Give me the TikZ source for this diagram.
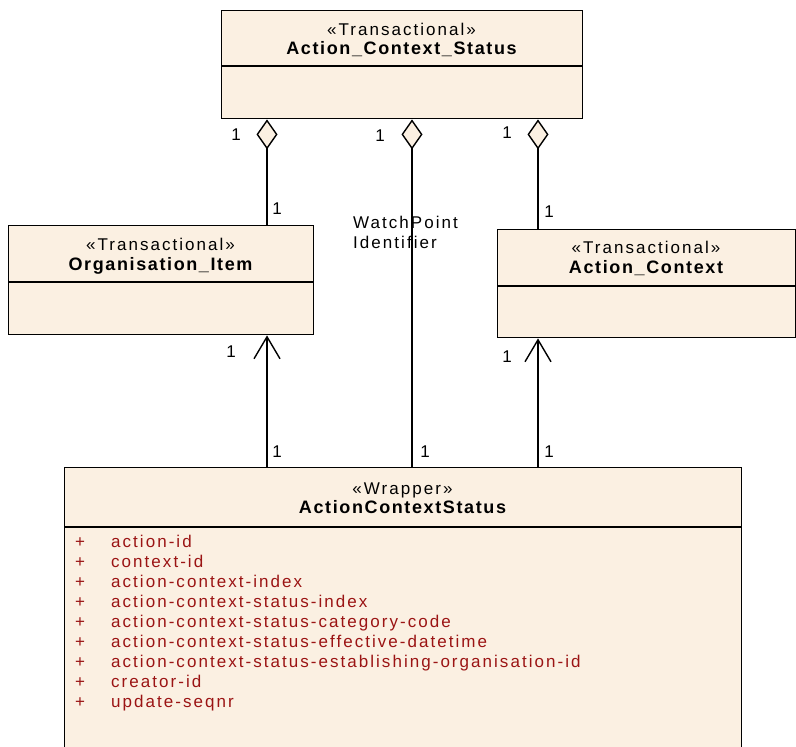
\documentclass[tikz,border=0pt]{standalone}
\usepackage{fontspec}
\setmainfont{Liberation Sans}
\newfontfamily\spfont{Liberation Sans}[LetterSpace=12]
\newfontfamily\bspfont{Liberation Sans}[LetterSpace=9]
\usetikzlibrary{arrows.meta}
\definecolor{boxfill}{RGB}{251,240,226}
\definecolor{attrred}{RGB}{155,20,20}
\begin{document}
\begin{tikzpicture}[x=1pt,y=-1pt,
  umlbox/.style={draw=black, fill=boxfill, line width=1.4pt, rectangle, inner sep=0pt, anchor=north west},
  stereo/.style={font=\spfont\fontsize{17}{19}\selectfont, inner sep=0pt, text height=12.5pt, text depth=3.5pt},
  cname/.style={font=\bspfont\bfseries\fontsize{18}{20}\selectfont, inner sep=0pt, text height=13pt, text depth=4pt},
  mult/.style={font=\spfont\fontsize{17}{19}\selectfont, inner sep=0pt},
  attrtxt/.style={font=\spfont\fontsize{17}{19}\selectfont, text=attrred, inner sep=0pt, anchor=base west},
  conn/.style={line width=1.4pt},
  agg/.style={conn, -{Diamond[length=30pt,width=21pt,fill=boxfill,line width=1.4pt]}},
  nav/.style={conn, -{Straight Barb[length=22pt,width=26pt,line width=1.4pt]}}
]
\useasboundingbox (0,0) rectangle (796,747);
\clip (0,0) rectangle (796,747);
\fill[white] (0,0) rectangle (796,747);

% helper columns
\coordinate (cL) at (267,0);
\coordinate (cM) at (412,0);
\coordinate (cR) at (538,0);

% boxes
\node[umlbox, minimum width=361pt, minimum height=108pt] (acs) at (221,10) {};
\draw[conn] (acs.west |- 0,66) -- (acs.east |- 0,66);
\node[stereo] (acsS) at (401.5,31) {«Transactional»};
\node[cname] (acsN) at (401.5,50) {Action\_Context\_Status};

\node[umlbox, minimum width=305pt, minimum height=109pt] (oi) at (8,225) {};
\draw[conn] (oi.west |- 0,282) -- (oi.east |- 0,282);
\node[stereo] (oiS) at (160.5,246) {«Transactional»};
\node[cname] (oiN) at (160.5,266) {Organisation\_Item};

\node[umlbox, minimum width=298pt, minimum height=108pt] (ac) at (497,229) {};
\draw[conn] (ac.west |- 0,286) -- (ac.east |- 0,286);
\node[stereo] (acS) at (646,249) {«Transactional»};
\node[cname] (acN) at (646,269) {Action\_Context};

\node[umlbox, minimum width=677pt, minimum height=320pt] (w) at (64,467) {};
\draw[conn] (w.west |- 0,527) -- (w.east |- 0,527);
\node[stereo] (wS) at (402.5,490) {«Wrapper»};
\node[cname] (wN) at (402.5,509) {ActionContextStatus};

\foreach \t [count=\i from 0] in {action-id,context-id,action-context-index,action-context-status-index,action-context-status-category-code,action-context-status-effective-datetime,action-context-status-establishing-organisation-id,creator-id,update-seqnr}{
  \node[attrtxt] (p\i) at (75,547+20*\i) {+};
  \node[attrtxt] (a\i) at (111,547+20*\i) {\t};
}

% aggregations
\draw[agg] (oi.north -| cL) -- (acs.south -| cL);
\draw[agg] (w.north -| cM) -- (acs.south -| cM);
\draw[agg] (ac.north -| cR) -- (acs.south -| cR);

% navigable associations
\draw[nav] (w.north -| cL) -- (oi.south -| cL);
\draw[nav] (w.north -| cR) -- (ac.south -| cR);

% multiplicities
\node[mult] (m1) at (236,135) {1};
\node[mult] (m2) at (277,209) {1};
\node[mult] (m3) at (380,136) {1};
\node[mult] (m4) at (425,452) {1};
\node[mult] (m5) at (507,133) {1};
\node[mult] (m6) at (549,212) {1};
\node[mult] (m7) at (231,352) {1};
\node[mult] (m8) at (277,452) {1};
\node[mult] (m9) at (507,357) {1};
\node[mult] (m10) at (549,452) {1};

\node[mult, anchor=north west, align=left, font=\spfont\fontsize{17}{20}\selectfont] (wp) at (353,216) {WatchPoint\\Identifier};
\end{tikzpicture}
\end{document}
